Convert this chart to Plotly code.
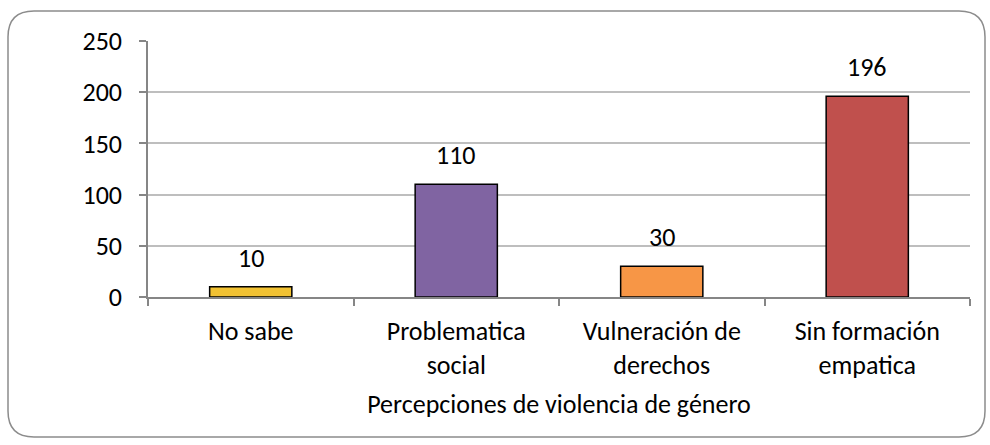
import plotly.graph_objects as go

categories = ["No sabe", "Problematica<br>social", "Vulneración de<br>derechos", "Sin formación<br>empatica"]
values = [10, 110, 30, 196]
bar_colors = ["#F2C232", "#8064A2", "#F79646", "#C0504D"]
y_ticks = [0, 50, 100, 150, 200, 250]
x_title = "Percepciones de violencia de género"

W, H = 990, 445
ML, MR, MT, MB = 148, 20, 41, 148
FONT = "Carlito, Lato, Calibri, sans-serif"
FS = 26

fig = go.Figure()
fig.add_trace(go.Bar(
    x=categories, y=values,
    marker=dict(color=bar_colors, line=dict(color="#000000", width=1.5)),
    width=0.4,
    hoverinfo="x+y",
))

for c, v in zip(categories, values):
    fig.add_annotation(x=c, y=v, text=str(v), showarrow=False,
                       yanchor="bottom", yshift=11,
                       font=dict(family=FONT, size=FS, color="#000000"))

# rounded outer border (pixel -> paper conversion)
pw, ph = W - ML - MR, H - MT - MB
def px(x):
    return (x - ML) / pw
def py(y):
    return 1 - (y - MT) / ph
x0, x1, y0, y1, r = 8, 985, 11, 437, 26
path = (f"M {px(x0+r)},{py(y0)} L {px(x1-r)},{py(y0)} Q {px(x1)},{py(y0)} {px(x1)},{py(y0+r)} "
        f"L {px(x1)},{py(y1-r)} Q {px(x1)},{py(y1)} {px(x1-r)},{py(y1)} "
        f"L {px(x0+r)},{py(y1)} Q {px(x0)},{py(y1)} {px(x0)},{py(y1-r)} "
        f"L {px(x0)},{py(y0+r)} Q {px(x0)},{py(y0)} {px(x0+r)},{py(y0)} Z")
fig.add_shape(type="path", path=path, xref="paper", yref="paper",
              line=dict(color="#8C8C8C", width=1.5), layer="below")

fig.update_layout(
    width=W, height=H,
    margin=dict(l=ML, r=MR, t=MT, b=MB),
    paper_bgcolor="white", plot_bgcolor="white",
    font=dict(family=FONT, size=FS, color="#000000"),
    showlegend=False,
)
fig.update_xaxes(
    type="category", range=[-0.5, 3.5],
    showline=True, linecolor="#868686", linewidth=1.5,
    ticks="outside", tickson="boundaries", ticklen=7, tickcolor="#868686", tickwidth=1.5,
    ticklabelstandoff=10,
    showgrid=False,
    title=dict(text=x_title, standoff=15, font=dict(family=FONT, size=FS)),
)
fig.update_yaxes(
    range=[0, 250], tickvals=y_ticks,
    showline=True, linecolor="#868686", linewidth=1.5,
    ticks="outside", ticklen=7, tickcolor="#868686", tickwidth=1.5,
    ticklabelstandoff=12,
    showgrid=True, gridcolor="#BEBEBE", gridwidth=1.5,
    zeroline=False,
)

fig.write_html("out.html", config={"displayModeBar": False},
               post_script="document.body.style.margin='0px';document.body.style.overflow='hidden';")
